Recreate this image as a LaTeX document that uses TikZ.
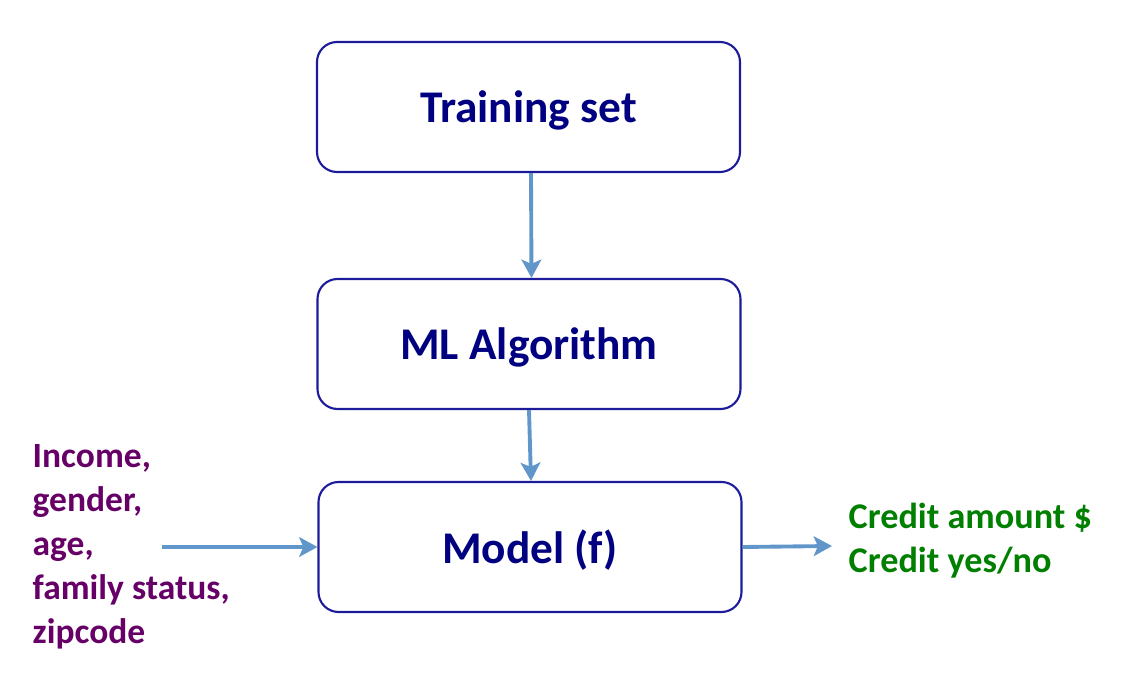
\documentclass[tikz,border=0pt]{standalone}
\usepackage{fontspec}
\setmainfont{Carlito}
\usetikzlibrary{arrows.meta}
\definecolor{boxline}{HTML}{1C1C9A}
\definecolor{boxtext}{HTML}{000080}
\definecolor{flow}{HTML}{6096CA}
\definecolor{inputs}{HTML}{660066}
\definecolor{outputs}{HTML}{007F00}

\begin{document}
\begin{tikzpicture}[
    stage/.style={draw=boxline, line width=0.6pt, rounded corners=0.2cm,
        minimum width=4.23cm, minimum height=1.3cm, text depth=0pt,
        text=boxtext, font=\fontsize{12.9}{15}\selectfont\bfseries},
    flowarrow/.style={draw=flow, line width=1.1pt,
        -{Stealth[length=5.2pt,width=5.6pt,inset=1.2pt]}}
    ]
    \useasboundingbox (0,0) rectangle (11.28,6.81);
    \node[stage] (train) at (5.285,5.74) {Training set};
    \node[stage] (algo) at (5.29,3.37) {ML Algorithm};
    \node[stage] (model) at (5.30,1.34) {Model (f)};
    \node[anchor=north west, align=left, inner sep=0pt, text=inputs,
        font=\fontsize{10.1}{12.5}\selectfont\bfseries] (features) at (0.32,2.37)
        {Income,\\gender,\\age,\\family status,\\zipcode};
    \node[anchor=north west, align=left, inner sep=0pt, text=outputs,
        font=\fontsize{10.3}{12.5}\selectfont\bfseries] (credit) at (8.48,1.79)
        {Credit amount \$\\Credit yes/no};
    \coordinate (infrom) at (1.62,1.34);
    \coordinate (outto) at (8.32,1.35);
    \draw[flowarrow] ([xshift=0.025cm]train.south) -- ([xshift=0.025cm]algo.north);
    \draw[flowarrow] (algo.south) -- ([xshift=0.01cm]model.north);
    \draw[flowarrow] (infrom) -- (model.west);
    \draw[flowarrow] (model.east) -- (outto);
\end{tikzpicture}
\end{document}
